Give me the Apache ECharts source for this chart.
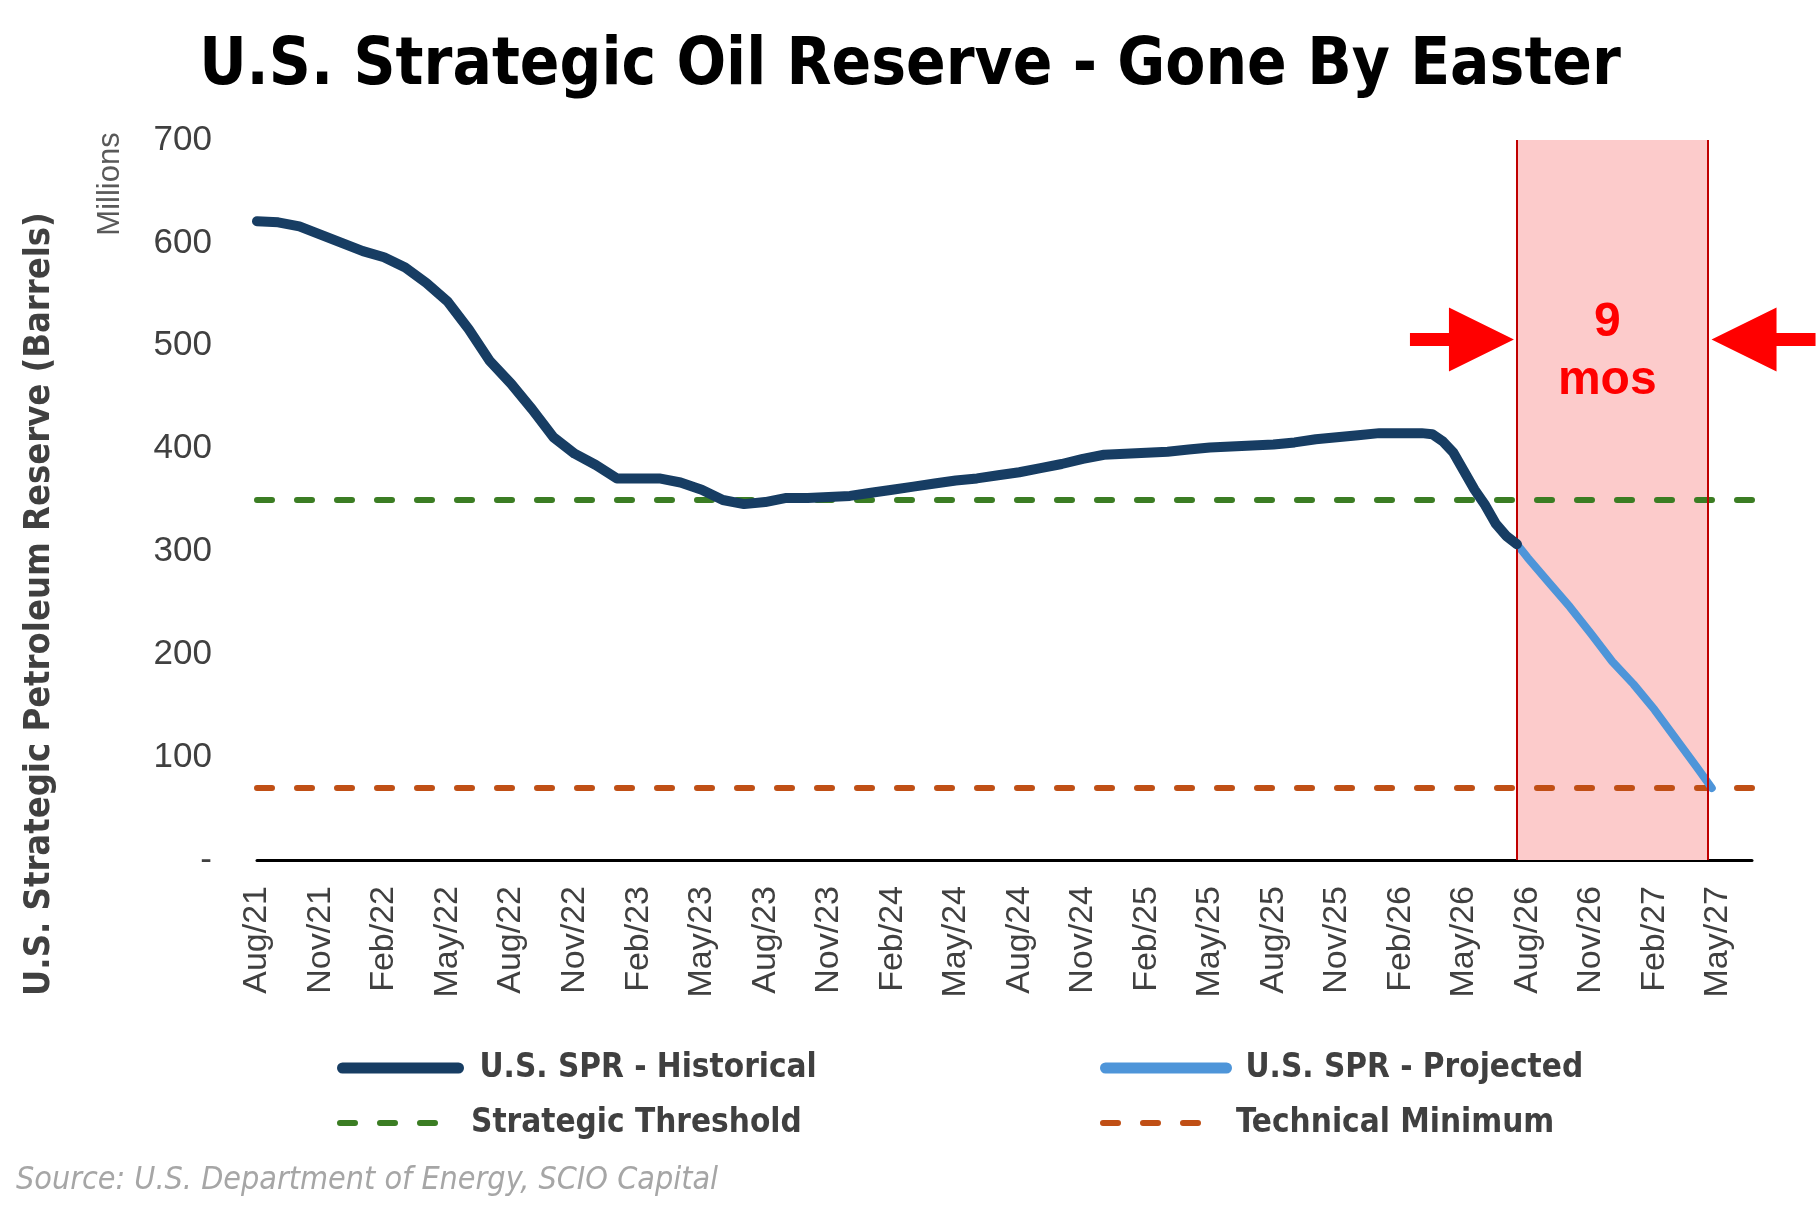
<!DOCTYPE html>
<html>
<head>
<meta charset="utf-8">
<script src="https://cdn.jsdelivr.net/npm/echarts@6/dist/echarts.min.js"></script>
<style>
  html, body { margin: 0; padding: 0; background: #fff; }
  #chart { width: 1820px; height: 1209px; }
</style>
</head>
<body>
<div id="chart"></div>
<script>
// month index counted from Aug/21 (0) ; values in millions of barrels
const tickLabels = ['Aug/21','Nov/21','Feb/22','May/22','Aug/22','Nov/22','Feb/23','May/23',
  'Aug/23','Nov/23','Feb/24','May/24','Aug/24','Nov/24','Feb/25','May/25','Aug/25','Nov/25',
  'Feb/26','May/26','Aug/26','Nov/26','Feb/27','May/27'];

const histX = [0,1,2,3,4,5,6,7,8,9,10,11,12,13,14,15,16,17,18,19,20,21,22,23,24,25,26,27,28,29,
  30,31,32,33,34,35,36,37,38,39,40,41,42,43,44,45,46,47,48,49,50,51,52,53,54,55,55.5,56,56.5,
  57,57.5,58,58.5,59,59.5];
const histY = [621,620,616,608,600,592,586,576,561,543,516,485,463,438,411,395,384,371,371,371,
  367,360,350,346,348,352,352,353,354,357,360,363,366,369,371,374,377,381,385,390,394,395,396,
  397,399,401,402,403,404,406,409,411,413,415,415,415,414,407,396,378,360,345,327,315,307];

const projX = [59.5,60,61,62,63,64,65,66,67,68,68.7];
const projY = [307,294,270,246,220,193,171,146,118,90,70];

const strategicThreshold = 350;
const technicalMinimum = 70;
const bandStart = 59.5;   // mid Jul/26
const bandEnd = 68.5;     // mid Apr/27
const xMax = 70.6;

const NARROW = "'Liberation Sans Narrow', 'DejaVu Sans Condensed', 'Liberation Sans', sans-serif";
const SANS = "'Liberation Sans', Arial, sans-serif";

const zip = (xs, ys) => xs.map((x, i) => [x, ys[i]]);

const chart = echarts.init(document.getElementById('chart'), null, { renderer: 'canvas' });

function legendAt(name, left, top, width, lineWidth, textGap) {
  return {
    data: [name], left: left, top: top, padding: 0, orient: 'horizontal',
    itemWidth: width, itemHeight: 20, selectedMode: false,
    itemStyle: { opacity: 0 },
    lineStyle: { width: lineWidth, cap: 'round' },
    textStyle: { fontFamily: NARROW, fontWeight: 'bold', fontSize: 33, color: '#404040',
      lineHeight: 40, padding: [0, 0, 0, textGap] }
  };
}

chart.setOption({
  animation: false,
  backgroundColor: '#fff',
  title: {
    text: 'U.S. Strategic Oil Reserve - Gone By Easter',
    left: 'center', top: 30,
    textStyle: { fontFamily: NARROW, fontWeight: 'bold', fontSize: 65, color: '#000' }
  },
  grid: { left: 257, right: 68, top: 140, bottom: 349, containLabel: false },
  legend: [
    legendAt('U.S. SPR - Historical', 337, 1048, 116, 11, 16),
    legendAt('U.S. SPR - Projected', 1100, 1048, 121, 11, 14),
    legendAt('Strategic Threshold', 337, 1103, 98, 6, 28),
    legendAt('Technical Minimum', 1100, 1103, 102, 6, 26)
  ],
  xAxis: {
    type: 'value', min: 0, max: xMax, interval: 3,
    splitLine: { show: false },
    axisTick: { show: false },
    axisLine: { show: true, onZero: false, lineStyle: { color: '#000', width: 3 } },
    axisLabel: {
      rotate: 90, margin: 26, showMaxLabel: false,
      fontFamily: SANS, fontSize: 34, color: '#404040',
      formatter: v => (v % 3 === 0 && tickLabels[v / 3]) ? tickLabels[v / 3] : ''
    }
  },
  yAxis: {
    type: 'value', min: 0, max: 700, interval: 100,
    splitLine: { show: false },
    axisTick: { show: false },
    axisLine: { show: false },
    axisLabel: {
      margin: 45, fontFamily: SANS, fontSize: 35, color: '#404040',
      formatter: v => v === 0 ? '-' : String(v)
    }
  },
  series: [
    {
      name: 'band', type: 'line', data: [], z: 1, silent: true,
      markArea: {
        silent: true,
        itemStyle: { color: '#fccbcb' },
        data: [[{ xAxis: bandStart, yAxis: 0 }, { xAxis: bandEnd, yAxis: 700 }]]
      },
      markLine: {
        silent: true, symbol: 'none', label: { show: false },
        lineStyle: { color: '#c00000', width: 2, type: 'solid' },
        data: [{ xAxis: bandStart }, { xAxis: bandEnd }]
      }
    },
    {
      name: 'Strategic Threshold', type: 'line', z: 3, showSymbol: false, symbol: 'circle',
      data: [[0, strategicThreshold], [xMax, strategicThreshold]],
      lineStyle: { color: '#3b7d23', width: 6, type: [15, 25], cap: 'round' },
      itemStyle: { color: '#3b7d23' }
    },
    {
      name: 'Technical Minimum', type: 'line', z: 3, showSymbol: false, symbol: 'circle',
      data: [[0, technicalMinimum], [xMax, technicalMinimum]],
      lineStyle: { color: '#c04f15', width: 6, type: [15, 25], cap: 'round' },
      itemStyle: { color: '#c04f15' }
    },
    {
      name: 'U.S. SPR - Historical', type: 'line', z: 5, showSymbol: false, symbol: 'circle',
      data: zip(histX, histY),
      lineStyle: { color: '#173d63', width: 10, join: 'round', cap: 'round' },
      itemStyle: { color: '#173d63' }
    },
    {
      name: 'U.S. SPR - Projected', type: 'line', z: 4, showSymbol: false, symbol: 'circle',
      data: zip(projX, projY),
      lineStyle: { color: '#4e95d9', width: 8, join: 'round', cap: 'round' },
      itemStyle: { color: '#4e95d9' }
    }
  ]
});

// annotations placed from the axis scales
const [x0, yA] = chart.convertToPixel({ gridIndex: 0 }, [bandStart, 506]);
const [x1] = chart.convertToPixel({ gridIndex: 0 }, [bandEnd, 506]);
const [, yTxt] = chart.convertToPixel({ gridIndex: 0 }, [0, 494]);

function arrow(tip, dir) {
  // dir = +1 points right, -1 points left
  const base = tip - dir * 65, tail = tip - dir * 104;
  return [[tail, yA - 6.5], [base, yA - 6.5], [base, yA - 32], [tip, yA],
          [base, yA + 32], [base, yA + 6.5], [tail, yA + 6.5]];
}

chart.setOption({
  graphic: [
    { type: 'polygon', shape: { points: arrow(x0 - 3, 1) }, style: { fill: '#ff0000' }, z: 10 },
    { type: 'polygon', shape: { points: arrow(x1 + 4, -1) }, style: { fill: '#ff0000' }, z: 10 },
    { type: 'text', x: (x0 + x1) / 2 - 5, y: yTxt, z: 10,
      style: { text: '9\nmos', fill: '#ff0000', font: 'bold 48px ' + SANS,
        textAlign: 'center', textVerticalAlign: 'middle', lineHeight: 58 } },
    { type: 'text', x: 110, y: 184, rotation: Math.PI / 2, z: 10,
      style: { text: 'Millions', fill: '#595959', font: '31px ' + SANS,
        textAlign: 'center', textVerticalAlign: 'middle' } },
    { type: 'text', x: 40, y: 604, rotation: Math.PI / 2, z: 10,
      style: { text: 'U.S. Strategic Petroleum Reserve (Barrels)', fill: '#404040',
        font: 'bold 36px ' + NARROW, textAlign: 'center', textVerticalAlign: 'middle' } },
    { type: 'text', x: 16, y: 1181, z: 10,
      style: { text: 'Source: U.S. Department of Energy, SCIO Capital', fill: '#a6a6a6',
        font: 'italic 32px ' + NARROW, textAlign: 'left', textVerticalAlign: 'middle' } }
  ]
});
</script>
</body>
</html>
